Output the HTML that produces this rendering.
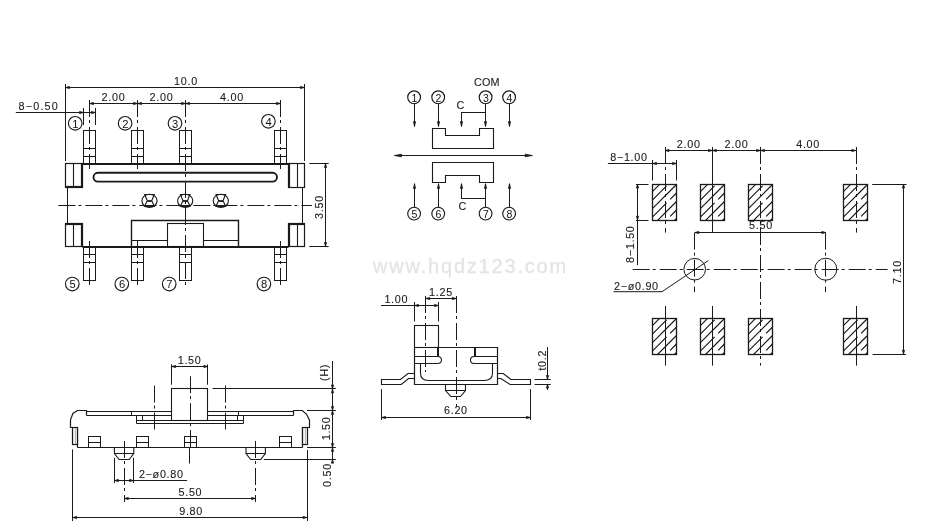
<!DOCTYPE html>
<html><head><meta charset="utf-8"><style>
html,body{margin:0;padding:0;background:#fff;}
svg{display:block;will-change:transform;}
text{font-family:"Liberation Sans",sans-serif;}
</style></head><body>
<svg width="939" height="532" viewBox="0 0 939 532">
<rect width="939" height="532" fill="#fff"/>
<line x1="65.5" y1="84" x2="65.5" y2="161" stroke="#1a1a1a" stroke-width="1.0"/>
<line x1="304.5" y1="84" x2="304.5" y2="161" stroke="#1a1a1a" stroke-width="1.0"/>
<line x1="65.5" y1="87.5" x2="304.5" y2="87.5" stroke="#1a1a1a" stroke-width="1.0"/>
<polygon points="65.50,87.50 69.50,86.30 69.50,88.70" fill="#1a1a1a" stroke="#1a1a1a" stroke-width="0.6" stroke-linejoin="round"/>
<polygon points="304.50,87.50 300.50,86.30 300.50,88.70" fill="#1a1a1a" stroke="#1a1a1a" stroke-width="0.6" stroke-linejoin="round"/>
<text x="186" y="85" font-size="10.8" text-anchor="middle" letter-spacing="0.7" fill="#1a1a1a" stroke="#1a1a1a" stroke-width="0.1">10.0</text>
<line x1="89.5" y1="103.5" x2="280.5" y2="103.5" stroke="#1a1a1a" stroke-width="1.0"/>
<polygon points="89.50,103.50 93.50,102.30 93.50,104.70" fill="#1a1a1a" stroke="#1a1a1a" stroke-width="0.6" stroke-linejoin="round"/>
<polygon points="137.50,103.50 141.50,102.30 141.50,104.70" fill="#1a1a1a" stroke="#1a1a1a" stroke-width="0.6" stroke-linejoin="round"/>
<polygon points="137.50,103.50 133.50,102.30 133.50,104.70" fill="#1a1a1a" stroke="#1a1a1a" stroke-width="0.6" stroke-linejoin="round"/>
<polygon points="185.50,103.50 189.50,102.30 189.50,104.70" fill="#1a1a1a" stroke="#1a1a1a" stroke-width="0.6" stroke-linejoin="round"/>
<polygon points="185.50,103.50 181.50,102.30 181.50,104.70" fill="#1a1a1a" stroke="#1a1a1a" stroke-width="0.6" stroke-linejoin="round"/>
<polygon points="280.50,103.50 276.50,102.30 276.50,104.70" fill="#1a1a1a" stroke="#1a1a1a" stroke-width="0.6" stroke-linejoin="round"/>
<text x="113.5" y="101.3" font-size="10.8" text-anchor="middle" letter-spacing="0.7" fill="#1a1a1a" stroke="#1a1a1a" stroke-width="0.1">2.00</text>
<text x="161.5" y="101.3" font-size="10.8" text-anchor="middle" letter-spacing="0.7" fill="#1a1a1a" stroke="#1a1a1a" stroke-width="0.1">2.00</text>
<text x="232" y="101.3" font-size="10.8" text-anchor="middle" letter-spacing="0.7" fill="#1a1a1a" stroke="#1a1a1a" stroke-width="0.1">4.00</text>
<line x1="89.5" y1="100" x2="89.5" y2="169" stroke="#1a1a1a" stroke-width="1.0" stroke-dasharray="17 3 3 4"/>
<line x1="89.5" y1="241" x2="89.5" y2="285.5" stroke="#1a1a1a" stroke-width="1.0" stroke-dasharray="17 3 3 4"/>
<line x1="137.5" y1="100" x2="137.5" y2="169" stroke="#1a1a1a" stroke-width="1.0" stroke-dasharray="17 3 3 4"/>
<line x1="137.5" y1="241" x2="137.5" y2="285.5" stroke="#1a1a1a" stroke-width="1.0" stroke-dasharray="17 3 3 4"/>
<line x1="280.5" y1="100" x2="280.5" y2="169" stroke="#1a1a1a" stroke-width="1.0" stroke-dasharray="17 3 3 4"/>
<line x1="280.5" y1="241" x2="280.5" y2="285.5" stroke="#1a1a1a" stroke-width="1.0" stroke-dasharray="17 3 3 4"/>
<line x1="185.5" y1="100" x2="185.5" y2="285.5" stroke="#1a1a1a" stroke-width="1.0" stroke-dasharray="17 3 3 4"/>
<text x="18.5" y="109.6" font-size="10.8" text-anchor="start" letter-spacing="1.2" fill="#1a1a1a" stroke="#1a1a1a" stroke-width="0.1">8&#8722;0.50</text>
<line x1="15.8" y1="112.5" x2="95.5" y2="112.5" stroke="#1a1a1a" stroke-width="1.0"/>
<line x1="83.5" y1="108" x2="83.5" y2="125" stroke="#1a1a1a" stroke-width="1.0"/>
<line x1="95.5" y1="108" x2="95.5" y2="125" stroke="#1a1a1a" stroke-width="1.0"/>
<polygon points="83.50,112.50 79.50,111.30 79.50,113.70" fill="#1a1a1a" stroke="#1a1a1a" stroke-width="0.6" stroke-linejoin="round"/>
<polygon points="95.50,112.50 91.50,111.30 91.50,113.70" fill="#1a1a1a" stroke="#1a1a1a" stroke-width="0.6" stroke-linejoin="round"/>
<circle cx="75.2" cy="123.3" r="6.8" stroke="#1a1a1a" stroke-width="1.15" fill="none"/>
<text x="75.4" y="127.5" font-size="11.2" text-anchor="middle" letter-spacing="0" fill="#111">1</text>
<circle cx="125.1" cy="123.3" r="6.8" stroke="#1a1a1a" stroke-width="1.15" fill="none"/>
<text x="125.3" y="127.5" font-size="11.2" text-anchor="middle" letter-spacing="0" fill="#111">2</text>
<circle cx="175" cy="123.3" r="6.8" stroke="#1a1a1a" stroke-width="1.15" fill="none"/>
<text x="175.2" y="127.5" font-size="11.2" text-anchor="middle" letter-spacing="0" fill="#111">3</text>
<circle cx="268.4" cy="121.3" r="6.8" stroke="#1a1a1a" stroke-width="1.15" fill="none"/>
<text x="268.59999999999997" y="125.5" font-size="11.2" text-anchor="middle" letter-spacing="0" fill="#111">4</text>
<rect x="83.5" y="130.5" width="12.0" height="34.0" stroke="#1a1a1a" stroke-width="1.0" fill="none"/>
<line x1="83.5" y1="148.5" x2="95.5" y2="148.5" stroke="#1a1a1a" stroke-width="1.0"/>
<line x1="83.5" y1="156.5" x2="95.5" y2="156.5" stroke="#1a1a1a" stroke-width="1.0"/>
<rect x="131.5" y="130.5" width="12.0" height="34.0" stroke="#1a1a1a" stroke-width="1.0" fill="none"/>
<line x1="131.5" y1="148.5" x2="143.5" y2="148.5" stroke="#1a1a1a" stroke-width="1.0"/>
<line x1="131.5" y1="156.5" x2="143.5" y2="156.5" stroke="#1a1a1a" stroke-width="1.0"/>
<rect x="179.5" y="130.5" width="12.0" height="34.0" stroke="#1a1a1a" stroke-width="1.0" fill="none"/>
<line x1="179.5" y1="148.5" x2="191.5" y2="148.5" stroke="#1a1a1a" stroke-width="1.0"/>
<line x1="179.5" y1="156.5" x2="191.5" y2="156.5" stroke="#1a1a1a" stroke-width="1.0"/>
<rect x="274.5" y="130.5" width="12.0" height="34.0" stroke="#1a1a1a" stroke-width="1.0" fill="none"/>
<line x1="274.5" y1="148.5" x2="286.5" y2="148.5" stroke="#1a1a1a" stroke-width="1.0"/>
<line x1="274.5" y1="156.5" x2="286.5" y2="156.5" stroke="#1a1a1a" stroke-width="1.0"/>
<line x1="82" y1="164" x2="289" y2="164" stroke="#1a1a1a" stroke-width="2"/>
<rect x="65.5" y="163.5" width="17.0" height="24.0" stroke="#1a1a1a" stroke-width="1.2" fill="none"/>
<line x1="73.5" y1="163.5" x2="73.5" y2="187.5" stroke="#1a1a1a" stroke-width="1.1"/>
<line x1="81.5" y1="163.5" x2="81.5" y2="187.5" stroke="#1a1a1a" stroke-width="1.2"/>
<line x1="66" y1="186.5" x2="82.5" y2="186.5" stroke="#1a1a1a" stroke-width="1.2"/>
<rect x="288.5" y="163.5" width="16.0" height="24.0" stroke="#1a1a1a" stroke-width="1.2" fill="none"/>
<line x1="297.5" y1="163.5" x2="297.5" y2="187.5" stroke="#1a1a1a" stroke-width="1.1"/>
<line x1="289.5" y1="163.5" x2="289.5" y2="187.5" stroke="#1a1a1a" stroke-width="1.2"/>
<rect x="65.5" y="223.5" width="17.0" height="23.0" stroke="#1a1a1a" stroke-width="1.2" fill="none"/>
<line x1="73.5" y1="223.5" x2="73.5" y2="246.5" stroke="#1a1a1a" stroke-width="1.1"/>
<line x1="81.5" y1="223.5" x2="81.5" y2="246.5" stroke="#1a1a1a" stroke-width="1.2"/>
<line x1="66" y1="224.5" x2="82.5" y2="224.5" stroke="#1a1a1a" stroke-width="1.2"/>
<rect x="288.5" y="223.5" width="16.0" height="23.0" stroke="#1a1a1a" stroke-width="1.2" fill="none"/>
<line x1="297.5" y1="223.5" x2="297.5" y2="246.5" stroke="#1a1a1a" stroke-width="1.1"/>
<line x1="289.5" y1="223.5" x2="289.5" y2="246.5" stroke="#1a1a1a" stroke-width="1.2"/>
<line x1="289" y1="224.5" x2="304.5" y2="224.5" stroke="#1a1a1a" stroke-width="1.2"/>
<line x1="67.5" y1="187.5" x2="67.5" y2="223.5" stroke="#1a1a1a" stroke-width="1.0"/>
<line x1="302.5" y1="187.5" x2="302.5" y2="223.5" stroke="#1a1a1a" stroke-width="1.0"/>
<line x1="82.5" y1="247" x2="288.5" y2="247" stroke="#1a1a1a" stroke-width="2"/>
<rect x="93.5" y="172.8" width="183.5" height="8.8" rx="4.4" stroke="#1a1a1a" stroke-width="1.9" fill="none"/>
<ellipse cx="149.5" cy="200.8" rx="7.6" ry="6.6" stroke="#1a1a1a" stroke-width="1.1" fill="none"/>
<path d="M144.75,194.5 H154.25 L151.7,200.8 L154.4,206.3 H144.6 L147.3,200.8 Z" stroke="#1a1a1a" stroke-width="1.1" fill="none"/>
<line x1="147.3" y1="201" x2="151.7" y2="201" stroke="#1a1a1a" stroke-width="1.8"/>
<line x1="144.6" y1="206" x2="154.4" y2="206" stroke="#1a1a1a" stroke-width="1.8"/>
<ellipse cx="185.2" cy="200.8" rx="7.6" ry="6.6" stroke="#1a1a1a" stroke-width="1.1" fill="none"/>
<path d="M180.45,194.5 H189.95 L187.39999999999998,200.8 L190.1,206.3 H180.29999999999998 L183.0,200.8 Z" stroke="#1a1a1a" stroke-width="1.1" fill="none"/>
<line x1="183.0" y1="201" x2="187.39999999999998" y2="201" stroke="#1a1a1a" stroke-width="1.8"/>
<line x1="180.29999999999998" y1="206" x2="190.1" y2="206" stroke="#1a1a1a" stroke-width="1.8"/>
<ellipse cx="220.8" cy="200.8" rx="7.6" ry="6.6" stroke="#1a1a1a" stroke-width="1.1" fill="none"/>
<path d="M216.05,194.5 H225.55 L223.0,200.8 L225.70000000000002,206.3 H215.9 L218.60000000000002,200.8 Z" stroke="#1a1a1a" stroke-width="1.1" fill="none"/>
<line x1="218.60000000000002" y1="201" x2="223.0" y2="201" stroke="#1a1a1a" stroke-width="1.8"/>
<line x1="215.9" y1="206" x2="225.70000000000002" y2="206" stroke="#1a1a1a" stroke-width="1.8"/>
<line x1="58.4" y1="205.5" x2="312" y2="205.5" stroke="#1a1a1a" stroke-width="1.0" stroke-dasharray="17 3 3 4"/>
<path d="M131.5,247 V220.5 H238.5 V247" stroke="#1a1a1a" stroke-width="1.4" fill="none"/>
<rect x="167.5" y="223.5" width="36.0" height="23.0" stroke="#1a1a1a" stroke-width="1.1" fill="none"/>
<line x1="131.5" y1="240.5" x2="167.5" y2="240.5" stroke="#1a1a1a" stroke-width="1.0"/>
<line x1="203.4" y1="240.5" x2="238.5" y2="240.5" stroke="#1a1a1a" stroke-width="1.0"/>
<rect x="83.5" y="246.5" width="12.0" height="34.0" stroke="#1a1a1a" stroke-width="1.0" fill="none"/>
<line x1="83.5" y1="254.5" x2="95.5" y2="254.5" stroke="#1a1a1a" stroke-width="1.0"/>
<line x1="83.5" y1="262.5" x2="95.5" y2="262.5" stroke="#1a1a1a" stroke-width="1.0"/>
<rect x="131.5" y="246.5" width="12.0" height="34.0" stroke="#1a1a1a" stroke-width="1.0" fill="none"/>
<line x1="131.5" y1="254.5" x2="143.5" y2="254.5" stroke="#1a1a1a" stroke-width="1.0"/>
<line x1="131.5" y1="262.5" x2="143.5" y2="262.5" stroke="#1a1a1a" stroke-width="1.0"/>
<rect x="179.5" y="246.5" width="12.0" height="34.0" stroke="#1a1a1a" stroke-width="1.0" fill="none"/>
<line x1="179.5" y1="254.5" x2="191.5" y2="254.5" stroke="#1a1a1a" stroke-width="1.0"/>
<line x1="179.5" y1="262.5" x2="191.5" y2="262.5" stroke="#1a1a1a" stroke-width="1.0"/>
<rect x="274.5" y="246.5" width="12.0" height="34.0" stroke="#1a1a1a" stroke-width="1.0" fill="none"/>
<line x1="274.5" y1="254.5" x2="286.5" y2="254.5" stroke="#1a1a1a" stroke-width="1.0"/>
<line x1="274.5" y1="262.5" x2="286.5" y2="262.5" stroke="#1a1a1a" stroke-width="1.0"/>
<circle cx="72.3" cy="284" r="6.8" stroke="#1a1a1a" stroke-width="1.15" fill="none"/>
<text x="72.5" y="288.2" font-size="11.2" text-anchor="middle" letter-spacing="0" fill="#111">5</text>
<circle cx="121.8" cy="284" r="6.8" stroke="#1a1a1a" stroke-width="1.15" fill="none"/>
<text x="122.0" y="288.2" font-size="11.2" text-anchor="middle" letter-spacing="0" fill="#111">6</text>
<circle cx="169.2" cy="284" r="6.8" stroke="#1a1a1a" stroke-width="1.15" fill="none"/>
<text x="169.39999999999998" y="288.2" font-size="11.2" text-anchor="middle" letter-spacing="0" fill="#111">7</text>
<circle cx="263.9" cy="284" r="6.8" stroke="#1a1a1a" stroke-width="1.15" fill="none"/>
<text x="264.09999999999997" y="288.2" font-size="11.2" text-anchor="middle" letter-spacing="0" fill="#111">8</text>
<line x1="309.3" y1="163.5" x2="328.7" y2="163.5" stroke="#1a1a1a" stroke-width="1.0"/>
<line x1="309.3" y1="246.5" x2="328.7" y2="246.5" stroke="#1a1a1a" stroke-width="1.0"/>
<line x1="325.5" y1="163.5" x2="325.5" y2="246.5" stroke="#1a1a1a" stroke-width="1.0"/>
<polygon points="325.50,163.50 324.30,167.50 326.70,167.50" fill="#1a1a1a" stroke="#1a1a1a" stroke-width="0.6" stroke-linejoin="round"/>
<polygon points="325.50,246.50 324.30,242.50 326.70,242.50" fill="#1a1a1a" stroke="#1a1a1a" stroke-width="0.6" stroke-linejoin="round"/>
<text x="322.5" y="207" font-size="10.8" text-anchor="middle" letter-spacing="0.7" fill="#1a1a1a" stroke="#1a1a1a" stroke-width="0.1" transform="rotate(-90 322.5 207)">3.50</text>
<text x="486.8" y="86" font-size="10.8" text-anchor="middle" letter-spacing="0.1" fill="#1a1a1a" stroke="#1a1a1a" stroke-width="0.1">COM</text>
<circle cx="414.1" cy="97.3" r="6.4" stroke="#1a1a1a" stroke-width="1.15" fill="none"/>
<text x="414.3" y="101.5" font-size="10.5" text-anchor="middle" letter-spacing="0" fill="#111">1</text>
<line x1="414.5" y1="103.5" x2="414.5" y2="126.4" stroke="#1a1a1a" stroke-width="1.0"/>
<polygon points="414.50,126.60 413.30,121.60 415.70,121.60" fill="#1a1a1a" stroke="#1a1a1a" stroke-width="0.6" stroke-linejoin="round"/>
<circle cx="438.2" cy="97.3" r="6.4" stroke="#1a1a1a" stroke-width="1.15" fill="none"/>
<text x="438.4" y="101.5" font-size="10.5" text-anchor="middle" letter-spacing="0" fill="#111">2</text>
<line x1="438.5" y1="103.5" x2="438.5" y2="126.4" stroke="#1a1a1a" stroke-width="1.0"/>
<polygon points="438.50,126.60 437.30,121.60 439.70,121.60" fill="#1a1a1a" stroke="#1a1a1a" stroke-width="0.6" stroke-linejoin="round"/>
<circle cx="485.6" cy="97.3" r="6.4" stroke="#1a1a1a" stroke-width="1.15" fill="none"/>
<text x="485.8" y="101.5" font-size="10.5" text-anchor="middle" letter-spacing="0" fill="#111">3</text>
<line x1="485.5" y1="103.5" x2="485.5" y2="126.4" stroke="#1a1a1a" stroke-width="1.0"/>
<polygon points="485.50,126.60 484.30,121.60 486.70,121.60" fill="#1a1a1a" stroke="#1a1a1a" stroke-width="0.6" stroke-linejoin="round"/>
<circle cx="509.1" cy="97.3" r="6.4" stroke="#1a1a1a" stroke-width="1.15" fill="none"/>
<text x="509.3" y="101.5" font-size="10.5" text-anchor="middle" letter-spacing="0" fill="#111">4</text>
<line x1="509.5" y1="103.5" x2="509.5" y2="126.4" stroke="#1a1a1a" stroke-width="1.0"/>
<polygon points="509.50,126.60 508.30,121.60 510.70,121.60" fill="#1a1a1a" stroke="#1a1a1a" stroke-width="0.6" stroke-linejoin="round"/>
<text x="460.3" y="108.7" font-size="10.8" text-anchor="middle" letter-spacing="0" fill="#1a1a1a" stroke="#1a1a1a" stroke-width="0.1">C</text>
<line x1="461.1" y1="112.5" x2="485.6" y2="112.5" stroke="#1a1a1a" stroke-width="1.0"/>
<line x1="461.5" y1="112.3" x2="461.5" y2="126.4" stroke="#1a1a1a" stroke-width="1.0"/>
<polygon points="461.50,126.60 460.30,121.60 462.70,121.60" fill="#1a1a1a" stroke="#1a1a1a" stroke-width="0.6" stroke-linejoin="round"/>
<path d="M432.5,148.5 V128.5 H445.5 V135.5 H479.5 V128.5 H493.5 V148.5 Z" stroke="#1a1a1a" stroke-width="1.1" fill="none"/>
<line x1="396" y1="155.5" x2="531" y2="155.5" stroke="#1a1a1a" stroke-width="1.2"/>
<polygon points="394.00,155.50 401.50,154.10 401.50,156.90" fill="#1a1a1a" stroke="#1a1a1a" stroke-width="0.6" stroke-linejoin="round"/>
<polygon points="532.60,155.50 525.10,154.10 525.10,156.90" fill="#1a1a1a" stroke="#1a1a1a" stroke-width="0.6" stroke-linejoin="round"/>
<path d="M432.5,162.5 H493.5 V182.5 H479.5 V175.5 H445.5 V182.5 H432.5 Z" stroke="#1a1a1a" stroke-width="1.1" fill="none"/>
<circle cx="414.1" cy="213.6" r="6.4" stroke="#1a1a1a" stroke-width="1.15" fill="none"/>
<text x="414.3" y="217.79999999999998" font-size="10.5" text-anchor="middle" letter-spacing="0" fill="#111">5</text>
<line x1="414.5" y1="207.4" x2="414.5" y2="184" stroke="#1a1a1a" stroke-width="1.0"/>
<polygon points="414.50,183.50 413.30,188.50 415.70,188.50" fill="#1a1a1a" stroke="#1a1a1a" stroke-width="0.6" stroke-linejoin="round"/>
<circle cx="438.2" cy="213.6" r="6.4" stroke="#1a1a1a" stroke-width="1.15" fill="none"/>
<text x="438.4" y="217.79999999999998" font-size="10.5" text-anchor="middle" letter-spacing="0" fill="#111">6</text>
<line x1="438.5" y1="207.4" x2="438.5" y2="184" stroke="#1a1a1a" stroke-width="1.0"/>
<polygon points="438.50,183.50 437.30,188.50 439.70,188.50" fill="#1a1a1a" stroke="#1a1a1a" stroke-width="0.6" stroke-linejoin="round"/>
<circle cx="485.6" cy="213.6" r="6.4" stroke="#1a1a1a" stroke-width="1.15" fill="none"/>
<text x="485.8" y="217.79999999999998" font-size="10.5" text-anchor="middle" letter-spacing="0" fill="#111">7</text>
<line x1="485.5" y1="207.4" x2="485.5" y2="184" stroke="#1a1a1a" stroke-width="1.0"/>
<polygon points="485.50,183.50 484.30,188.50 486.70,188.50" fill="#1a1a1a" stroke="#1a1a1a" stroke-width="0.6" stroke-linejoin="round"/>
<circle cx="509.1" cy="213.6" r="6.4" stroke="#1a1a1a" stroke-width="1.15" fill="none"/>
<text x="509.3" y="217.79999999999998" font-size="10.5" text-anchor="middle" letter-spacing="0" fill="#111">8</text>
<line x1="509.5" y1="207.4" x2="509.5" y2="184" stroke="#1a1a1a" stroke-width="1.0"/>
<polygon points="509.50,183.50 508.30,188.50 510.70,188.50" fill="#1a1a1a" stroke="#1a1a1a" stroke-width="0.6" stroke-linejoin="round"/>
<text x="462.3" y="209.8" font-size="10.8" text-anchor="middle" letter-spacing="0" fill="#1a1a1a" stroke="#1a1a1a" stroke-width="0.1">C</text>
<line x1="461.1" y1="198.5" x2="485.6" y2="198.5" stroke="#1a1a1a" stroke-width="1.0"/>
<line x1="461.5" y1="198.2" x2="461.5" y2="184" stroke="#1a1a1a" stroke-width="1.0"/>
<polygon points="461.50,183.50 460.30,188.50 462.70,188.50" fill="#1a1a1a" stroke="#1a1a1a" stroke-width="0.6" stroke-linejoin="round"/>
<text x="470.5" y="272.8" font-size="20" text-anchor="middle" letter-spacing="1.8" fill="#e4e4e4" stroke="#e4e4e4" stroke-width="0.3">www.hqdz123.com</text>
<line x1="171.5" y1="364.4" x2="171.5" y2="384.7" stroke="#1a1a1a" stroke-width="1.0"/>
<line x1="207.5" y1="364.4" x2="207.5" y2="384.7" stroke="#1a1a1a" stroke-width="1.0"/>
<line x1="171.7" y1="366.5" x2="207.9" y2="366.5" stroke="#1a1a1a" stroke-width="1.0"/>
<polygon points="171.70,366.50 175.70,365.30 175.70,367.70" fill="#1a1a1a" stroke="#1a1a1a" stroke-width="0.6" stroke-linejoin="round"/>
<polygon points="207.90,366.50 203.90,365.30 203.90,367.70" fill="#1a1a1a" stroke="#1a1a1a" stroke-width="0.6" stroke-linejoin="round"/>
<text x="189.6" y="364.4" font-size="10.8" text-anchor="middle" letter-spacing="0.7" fill="#1a1a1a" stroke="#1a1a1a" stroke-width="0.1">1.50</text>
<rect x="171.5" y="388.5" width="36.0" height="32.0" stroke="#1a1a1a" stroke-width="1.1" fill="none"/>
<line x1="190.5" y1="376.2" x2="190.5" y2="447" stroke="#1a1a1a" stroke-width="1.0" stroke-dasharray="17 3 3 4"/>
<line x1="189.5" y1="447" x2="189.5" y2="463.5" stroke="#1a1a1a" stroke-width="1.0"/>
<line x1="212.6" y1="388.5" x2="335.8" y2="388.5" stroke="#1a1a1a" stroke-width="1.0"/>
<line x1="86.5" y1="411.5" x2="172" y2="411.5" stroke="#1a1a1a" stroke-width="1.2"/>
<line x1="207.5" y1="411.5" x2="293.5" y2="411.5" stroke="#1a1a1a" stroke-width="1.2"/>
<line x1="86.5" y1="415.5" x2="172" y2="415.5" stroke="#1a1a1a" stroke-width="1.1"/>
<line x1="207.5" y1="415.5" x2="293.5" y2="415.5" stroke="#1a1a1a" stroke-width="1.1"/>
<line x1="131.5" y1="411.5" x2="131.5" y2="415.5" stroke="#1a1a1a" stroke-width="1.0"/>
<line x1="238.5" y1="411.5" x2="238.5" y2="415.5" stroke="#1a1a1a" stroke-width="1.0"/>
<rect x="136.5" y="415.5" width="6.0" height="5.0" stroke="#1a1a1a" stroke-width="1.0" fill="none"/>
<rect x="237.5" y="415.5" width="6.0" height="5.0" stroke="#1a1a1a" stroke-width="1.0" fill="none"/>
<line x1="136.5" y1="420.5" x2="172" y2="420.5" stroke="#1a1a1a" stroke-width="1.0"/>
<line x1="207.5" y1="420.5" x2="243.5" y2="420.5" stroke="#1a1a1a" stroke-width="1.0"/>
<line x1="136.5" y1="423.5" x2="243.5" y2="423.5" stroke="#1a1a1a" stroke-width="1.0"/>
<line x1="136.5" y1="415.5" x2="136.5" y2="423.5" stroke="#1a1a1a" stroke-width="1.0"/>
<line x1="243.5" y1="415.5" x2="243.5" y2="423.5" stroke="#1a1a1a" stroke-width="1.0"/>
<path d="M86.5,415.5 V410.5 H77.5 L72.9,413.5 L70.5,419.8 V427.5 H77.5 V447.5" stroke="#1a1a1a" stroke-width="1.2" fill="none"/>
<path d="M293.5,415.5 V410.5 H302.3 L306.6,414.3 L309.5,420.2 V427.5 H302.5 V447.5" stroke="#1a1a1a" stroke-width="1.2" fill="none"/>
<rect x="72.5" y="427.5" width="5" height="17" fill="#f4f4f4" stroke="#1a1a1a" stroke-width="1.2"/>
<rect x="302.5" y="427.5" width="5" height="17" fill="#f4f4f4" stroke="#1a1a1a" stroke-width="1.2"/>
<line x1="75.5" y1="428" x2="75.5" y2="444" stroke="#aaa" stroke-width="0.8"/>
<line x1="305.5" y1="428" x2="305.5" y2="444" stroke="#aaa" stroke-width="0.8"/>
<line x1="77.5" y1="447.5" x2="302.5" y2="447.5" stroke="#1a1a1a" stroke-width="1.2"/>
<rect x="88.5" y="436.5" width="12.0" height="11.0" stroke="#1a1a1a" stroke-width="1.0" fill="none"/>
<line x1="88.5" y1="442.5" x2="100.5" y2="442.5" stroke="#1a1a1a" stroke-width="1.0"/>
<rect x="136.5" y="436.5" width="12.0" height="11.0" stroke="#1a1a1a" stroke-width="1.0" fill="none"/>
<line x1="136.5" y1="442.5" x2="148.5" y2="442.5" stroke="#1a1a1a" stroke-width="1.0"/>
<rect x="184.5" y="436.5" width="12.0" height="11.0" stroke="#1a1a1a" stroke-width="1.0" fill="none"/>
<line x1="184" y1="442.5" x2="196" y2="442.5" stroke="#1a1a1a" stroke-width="1.0"/>
<rect x="279.5" y="436.5" width="12.0" height="11.0" stroke="#1a1a1a" stroke-width="1.0" fill="none"/>
<line x1="279.5" y1="442.5" x2="291.5" y2="442.5" stroke="#1a1a1a" stroke-width="1.0"/>
<path d="M114.39999999999999,447.5 V453.5 L119.1,459.5 H129.1 L133.79999999999998,453.5 V447.5" stroke="#1a1a1a" stroke-width="1.1" fill="none"/>
<line x1="114.39999999999999" y1="453.5" x2="133.79999999999998" y2="453.5" stroke="#1a1a1a" stroke-width="1.0"/>
<line x1="124.5" y1="441" x2="124.5" y2="502" stroke="#1a1a1a" stroke-width="1.0" stroke-dasharray="17 3 3 4"/>
<path d="M246.0,447.5 V453.5 L250.7,459.5 H260.7 L265.4,453.5 V447.5" stroke="#1a1a1a" stroke-width="1.1" fill="none"/>
<line x1="246.0" y1="453.5" x2="265.4" y2="453.5" stroke="#1a1a1a" stroke-width="1.0"/>
<line x1="255.5" y1="441" x2="255.5" y2="502" stroke="#1a1a1a" stroke-width="1.0" stroke-dasharray="17 3 3 4"/>
<line x1="154.5" y1="385.6" x2="154.5" y2="429.5" stroke="#1a1a1a" stroke-width="1.0" stroke-dasharray="17 3 3 4"/>
<line x1="225.5" y1="385.6" x2="225.5" y2="429.5" stroke="#1a1a1a" stroke-width="1.0" stroke-dasharray="17 3 3 4"/>
<line x1="114.5" y1="457.8" x2="114.5" y2="483" stroke="#1a1a1a" stroke-width="1.0"/>
<line x1="133.5" y1="457.8" x2="133.5" y2="483" stroke="#1a1a1a" stroke-width="1.0"/>
<line x1="114.4" y1="480.5" x2="187.1" y2="480.5" stroke="#1a1a1a" stroke-width="1.0"/>
<polygon points="114.50,480.50 118.50,479.30 118.50,481.70" fill="#1a1a1a" stroke="#1a1a1a" stroke-width="0.6" stroke-linejoin="round"/>
<polygon points="133.50,480.50 129.50,479.30 129.50,481.70" fill="#1a1a1a" stroke="#1a1a1a" stroke-width="0.6" stroke-linejoin="round"/>
<text x="138.9" y="477.6" font-size="10.8" text-anchor="start" letter-spacing="0.7" fill="#1a1a1a" stroke="#1a1a1a" stroke-width="0.1">2&#8722;&#248;0.80</text>
<line x1="124.3" y1="498.5" x2="255.6" y2="498.5" stroke="#1a1a1a" stroke-width="1.0"/>
<polygon points="124.30,498.50 128.30,497.30 128.30,499.70" fill="#1a1a1a" stroke="#1a1a1a" stroke-width="0.6" stroke-linejoin="round"/>
<polygon points="255.60,498.50 251.60,497.30 251.60,499.70" fill="#1a1a1a" stroke="#1a1a1a" stroke-width="0.6" stroke-linejoin="round"/>
<text x="190.4" y="496" font-size="10.8" text-anchor="middle" letter-spacing="0.7" fill="#1a1a1a" stroke="#1a1a1a" stroke-width="0.1">5.50</text>
<line x1="72.5" y1="449.4" x2="72.5" y2="521" stroke="#1a1a1a" stroke-width="1.0"/>
<line x1="307.5" y1="450" x2="307.5" y2="521" stroke="#1a1a1a" stroke-width="1.0"/>
<line x1="72.7" y1="517.5" x2="307" y2="517.5" stroke="#1a1a1a" stroke-width="1.0"/>
<polygon points="72.70,517.50 76.70,516.30 76.70,518.70" fill="#1a1a1a" stroke="#1a1a1a" stroke-width="0.6" stroke-linejoin="round"/>
<polygon points="307.00,517.50 303.00,516.30 303.00,518.70" fill="#1a1a1a" stroke="#1a1a1a" stroke-width="0.6" stroke-linejoin="round"/>
<text x="191.1" y="514.8" font-size="10.8" text-anchor="middle" letter-spacing="0.7" fill="#1a1a1a" stroke="#1a1a1a" stroke-width="0.1">9.80</text>
<line x1="332.5" y1="361" x2="332.5" y2="459.2" stroke="#1a1a1a" stroke-width="1.0"/>
<line x1="307" y1="410.5" x2="335.8" y2="410.5" stroke="#1a1a1a" stroke-width="1.0"/>
<line x1="307" y1="447.5" x2="335.8" y2="447.5" stroke="#1a1a1a" stroke-width="1.0"/>
<line x1="263.9" y1="459.5" x2="335.8" y2="459.5" stroke="#1a1a1a" stroke-width="1.0"/>
<polygon points="332.50,388.90 331.30,392.90 333.70,392.90" fill="#1a1a1a" stroke="#1a1a1a" stroke-width="0.6" stroke-linejoin="round"/>
<polygon points="332.50,388.90 331.30,384.90 333.70,384.90" fill="#1a1a1a" stroke="#1a1a1a" stroke-width="0.6" stroke-linejoin="round"/>
<polygon points="332.50,410.40 331.30,414.40 333.70,414.40" fill="#1a1a1a" stroke="#1a1a1a" stroke-width="0.6" stroke-linejoin="round"/>
<polygon points="332.50,410.40 331.30,406.40 333.70,406.40" fill="#1a1a1a" stroke="#1a1a1a" stroke-width="0.6" stroke-linejoin="round"/>
<polygon points="332.50,447.40 331.30,451.40 333.70,451.40" fill="#1a1a1a" stroke="#1a1a1a" stroke-width="0.6" stroke-linejoin="round"/>
<polygon points="332.50,447.40 331.30,443.40 333.70,443.40" fill="#1a1a1a" stroke="#1a1a1a" stroke-width="0.6" stroke-linejoin="round"/>
<polygon points="332.50,459.20 331.30,463.20 333.70,463.20" fill="#1a1a1a" stroke="#1a1a1a" stroke-width="0.6" stroke-linejoin="round"/>
<text x="327.8" y="372.5" font-size="10.8" text-anchor="middle" letter-spacing="0.7" fill="#1a1a1a" stroke="#1a1a1a" stroke-width="0.1" transform="rotate(-90 327.8 372.5)">(H)</text>
<text x="330.5" y="428.4" font-size="10.8" text-anchor="middle" letter-spacing="0.7" fill="#1a1a1a" stroke="#1a1a1a" stroke-width="0.1" transform="rotate(-90 330.5 428.4)">1.50</text>
<text x="330.5" y="475" font-size="10.8" text-anchor="middle" letter-spacing="0.7" fill="#1a1a1a" stroke="#1a1a1a" stroke-width="0.1" transform="rotate(-90 330.5 475)">0.50</text>
<text x="384.4" y="302.8" font-size="10.8" text-anchor="start" letter-spacing="0.7" fill="#1a1a1a" stroke="#1a1a1a" stroke-width="0.1">1.00</text>
<line x1="381" y1="305.5" x2="438.5" y2="305.5" stroke="#1a1a1a" stroke-width="1.0"/>
<line x1="414.5" y1="302" x2="414.5" y2="321.5" stroke="#1a1a1a" stroke-width="1.0"/>
<line x1="438.5" y1="302" x2="438.5" y2="321.5" stroke="#1a1a1a" stroke-width="1.0"/>
<polygon points="414.50,305.50 418.50,304.30 418.50,306.70" fill="#1a1a1a" stroke="#1a1a1a" stroke-width="0.6" stroke-linejoin="round"/>
<polygon points="438.50,305.50 434.50,304.30 434.50,306.70" fill="#1a1a1a" stroke="#1a1a1a" stroke-width="0.6" stroke-linejoin="round"/>
<text x="441" y="296.4" font-size="10.8" text-anchor="middle" letter-spacing="0.7" fill="#1a1a1a" stroke="#1a1a1a" stroke-width="0.1">1.25</text>
<line x1="425.8" y1="298.5" x2="456.3" y2="298.5" stroke="#1a1a1a" stroke-width="1.0"/>
<polygon points="425.80,298.50 429.80,297.30 429.80,299.70" fill="#1a1a1a" stroke="#1a1a1a" stroke-width="0.6" stroke-linejoin="round"/>
<polygon points="456.30,298.50 452.30,297.30 452.30,299.70" fill="#1a1a1a" stroke="#1a1a1a" stroke-width="0.6" stroke-linejoin="round"/>
<line x1="425.5" y1="296" x2="425.5" y2="372" stroke="#1a1a1a" stroke-width="1.0" stroke-dasharray="17 3 3 4"/>
<line x1="456.5" y1="296" x2="456.5" y2="407" stroke="#1a1a1a" stroke-width="1.0" stroke-dasharray="17 3 3 4"/>
<rect x="414.5" y="325.5" width="24.0" height="22.0" stroke="#1a1a1a" stroke-width="1.1" fill="none"/>
<path d="M414.5,347.5 V384.5 H497.5 V347.5 Z" stroke="#1a1a1a" stroke-width="1.2" fill="none"/>
<line x1="438" y1="347.5" x2="438" y2="356.5" stroke="#1a1a1a" stroke-width="2"/>
<path d="M414.5,356.5 H437.5 Q441.5,356.5 441.5,360 Q441.5,363.5 437.5,363.5 H414.5" stroke="#1a1a1a" stroke-width="1.1" fill="none"/>
<path d="M420.5,363.5 V373 Q420.5,380.5 428.5,380.5 H484 Q492.5,380.5 492.5,373 V363.5" stroke="#1a1a1a" stroke-width="1.1" fill="none"/>
<line x1="475" y1="347.5" x2="475" y2="356.5" stroke="#1a1a1a" stroke-width="2"/>
<path d="M497.5,356.5 H474 Q470.5,356.5 470.5,360 Q470.5,363.5 474,363.5 H497.5" stroke="#1a1a1a" stroke-width="1.1" fill="none"/>
<path d="M414.5,373.5 H408 L400.5,379.5 H381.5 V384.5 H401.3 L408.5,378.5 H414.5" stroke="#1a1a1a" stroke-width="1.1" fill="none"/>
<path d="M497.5,373.5 H503.3 L510.9,379.5 H530.5 V384.5 H510.1 L500.8,378.5 H497.5" stroke="#1a1a1a" stroke-width="1.1" fill="none"/>
<path d="M445.5,384.5 V390.5 L450.9,396.5 H460.5 L465.5,390.5 V384.5" stroke="#1a1a1a" stroke-width="1.1" fill="none"/>
<line x1="445.8" y1="390.5" x2="465.6" y2="390.5" stroke="#1a1a1a" stroke-width="1.0"/>
<line x1="381.5" y1="389.2" x2="381.5" y2="420" stroke="#1a1a1a" stroke-width="1.0"/>
<line x1="530.5" y1="389.2" x2="530.5" y2="420" stroke="#1a1a1a" stroke-width="1.0"/>
<line x1="381.5" y1="417.5" x2="530.4" y2="417.5" stroke="#1a1a1a" stroke-width="1.0"/>
<polygon points="381.50,417.50 385.50,416.30 385.50,418.70" fill="#1a1a1a" stroke="#1a1a1a" stroke-width="0.6" stroke-linejoin="round"/>
<polygon points="530.40,417.50 526.40,416.30 526.40,418.70" fill="#1a1a1a" stroke="#1a1a1a" stroke-width="0.6" stroke-linejoin="round"/>
<text x="455.9" y="413.8" font-size="10.8" text-anchor="middle" letter-spacing="0.7" fill="#1a1a1a" stroke="#1a1a1a" stroke-width="0.1">6.20</text>
<line x1="534.6" y1="379.5" x2="550.7" y2="379.5" stroke="#1a1a1a" stroke-width="1.0"/>
<line x1="534.6" y1="384.5" x2="550.7" y2="384.5" stroke="#1a1a1a" stroke-width="1.0"/>
<line x1="547.5" y1="347" x2="547.5" y2="379.4" stroke="#1a1a1a" stroke-width="1.0"/>
<polygon points="547.50,379.40 546.30,375.40 548.70,375.40" fill="#1a1a1a" stroke="#1a1a1a" stroke-width="0.6" stroke-linejoin="round"/>
<line x1="547.5" y1="384.1" x2="547.5" y2="390" stroke="#1a1a1a" stroke-width="1.0"/>
<polygon points="547.50,384.10 546.30,388.10 548.70,388.10" fill="#1a1a1a" stroke="#1a1a1a" stroke-width="0.6" stroke-linejoin="round"/>
<text x="546" y="360.2" font-size="10.8" text-anchor="middle" letter-spacing="0.7" fill="#1a1a1a" stroke="#1a1a1a" stroke-width="0.1" transform="rotate(-90 546 360.2)">t0.2</text>
<line x1="665" y1="150.5" x2="855.8" y2="150.5" stroke="#1a1a1a" stroke-width="1.0"/>
<polygon points="665.00,150.50 669.00,149.30 669.00,151.70" fill="#1a1a1a" stroke="#1a1a1a" stroke-width="0.6" stroke-linejoin="round"/>
<polygon points="712.40,150.50 716.40,149.30 716.40,151.70" fill="#1a1a1a" stroke="#1a1a1a" stroke-width="0.6" stroke-linejoin="round"/>
<polygon points="712.40,150.50 708.40,149.30 708.40,151.70" fill="#1a1a1a" stroke="#1a1a1a" stroke-width="0.6" stroke-linejoin="round"/>
<polygon points="760.50,150.50 764.50,149.30 764.50,151.70" fill="#1a1a1a" stroke="#1a1a1a" stroke-width="0.6" stroke-linejoin="round"/>
<polygon points="760.50,150.50 756.50,149.30 756.50,151.70" fill="#1a1a1a" stroke="#1a1a1a" stroke-width="0.6" stroke-linejoin="round"/>
<polygon points="855.80,150.50 851.80,149.30 851.80,151.70" fill="#1a1a1a" stroke="#1a1a1a" stroke-width="0.6" stroke-linejoin="round"/>
<text x="688.7" y="148" font-size="10.8" text-anchor="middle" letter-spacing="0.7" fill="#1a1a1a" stroke="#1a1a1a" stroke-width="0.1">2.00</text>
<text x="736.5" y="148" font-size="10.8" text-anchor="middle" letter-spacing="0.7" fill="#1a1a1a" stroke="#1a1a1a" stroke-width="0.1">2.00</text>
<text x="808.1" y="148" font-size="10.8" text-anchor="middle" letter-spacing="0.7" fill="#1a1a1a" stroke="#1a1a1a" stroke-width="0.1">4.00</text>
<g><clipPath id="c0184"><rect x="652.5" y="184.5" width="24" height="36.0"/></clipPath>
<path clip-path="url(#c0184)" d="M676.5,116.5 L622.5,170.5 M676.5,133.5 L622.5,187.5 M676.5,150.5 L622.5,204.5 M676.5,167.5 L622.5,221.5 M676.5,184.5 L622.5,238.5 M676.5,201.5 L622.5,255.5 M676.5,218.5 L622.5,272.5 M676.5,235.5 L622.5,289.5" stroke="#151515" stroke-width="1.15"/>
<path clip-path="url(#c0184)" d="M676.5,125.0 L622.5,179.0 M676.5,142.0 L622.5,196.0 M676.5,159.0 L622.5,213.0 M676.5,176.0 L622.5,230.0 M676.5,193.0 L622.5,247.0 M676.5,210.0 L622.5,264.0 M676.5,227.0 L622.5,281.0 M676.5,244.0 L622.5,298.0" stroke="#151515" stroke-width="1.15" stroke-dasharray="9 5 30 4"/></g>
<rect x="652.5" y="184.5" width="24.0" height="36.0" stroke="#1a1a1a" stroke-width="1.3" fill="none"/>
<g><clipPath id="c0318"><rect x="652.5" y="318.5" width="24" height="36.0"/></clipPath>
<path clip-path="url(#c0318)" d="M676.5,250.5 L622.5,304.5 M676.5,267.5 L622.5,321.5 M676.5,284.5 L622.5,338.5 M676.5,301.5 L622.5,355.5 M676.5,318.5 L622.5,372.5 M676.5,335.5 L622.5,389.5 M676.5,352.5 L622.5,406.5 M676.5,369.5 L622.5,423.5" stroke="#151515" stroke-width="1.15"/>
<path clip-path="url(#c0318)" d="M676.5,259.0 L622.5,313.0 M676.5,276.0 L622.5,330.0 M676.5,293.0 L622.5,347.0 M676.5,310.0 L622.5,364.0 M676.5,327.0 L622.5,381.0 M676.5,344.0 L622.5,398.0 M676.5,361.0 L622.5,415.0 M676.5,378.0 L622.5,432.0" stroke="#151515" stroke-width="1.15" stroke-dasharray="9 5 30 4"/></g>
<rect x="652.5" y="318.5" width="24.0" height="36.0" stroke="#1a1a1a" stroke-width="1.3" fill="none"/>
<g><clipPath id="c1184"><rect x="700.5" y="184.5" width="24" height="36.0"/></clipPath>
<path clip-path="url(#c1184)" d="M724.5,116.5 L670.5,170.5 M724.5,133.5 L670.5,187.5 M724.5,150.5 L670.5,204.5 M724.5,167.5 L670.5,221.5 M724.5,184.5 L670.5,238.5 M724.5,201.5 L670.5,255.5 M724.5,218.5 L670.5,272.5 M724.5,235.5 L670.5,289.5" stroke="#151515" stroke-width="1.15"/>
<path clip-path="url(#c1184)" d="M724.5,125.0 L670.5,179.0 M724.5,142.0 L670.5,196.0 M724.5,159.0 L670.5,213.0 M724.5,176.0 L670.5,230.0 M724.5,193.0 L670.5,247.0 M724.5,210.0 L670.5,264.0 M724.5,227.0 L670.5,281.0 M724.5,244.0 L670.5,298.0" stroke="#151515" stroke-width="1.15" stroke-dasharray="9 5 30 4"/></g>
<rect x="700.5" y="184.5" width="24.0" height="36.0" stroke="#1a1a1a" stroke-width="1.3" fill="none"/>
<g><clipPath id="c1318"><rect x="700.5" y="318.5" width="24" height="36.0"/></clipPath>
<path clip-path="url(#c1318)" d="M724.5,250.5 L670.5,304.5 M724.5,267.5 L670.5,321.5 M724.5,284.5 L670.5,338.5 M724.5,301.5 L670.5,355.5 M724.5,318.5 L670.5,372.5 M724.5,335.5 L670.5,389.5 M724.5,352.5 L670.5,406.5 M724.5,369.5 L670.5,423.5" stroke="#151515" stroke-width="1.15"/>
<path clip-path="url(#c1318)" d="M724.5,259.0 L670.5,313.0 M724.5,276.0 L670.5,330.0 M724.5,293.0 L670.5,347.0 M724.5,310.0 L670.5,364.0 M724.5,327.0 L670.5,381.0 M724.5,344.0 L670.5,398.0 M724.5,361.0 L670.5,415.0 M724.5,378.0 L670.5,432.0" stroke="#151515" stroke-width="1.15" stroke-dasharray="9 5 30 4"/></g>
<rect x="700.5" y="318.5" width="24.0" height="36.0" stroke="#1a1a1a" stroke-width="1.3" fill="none"/>
<g><clipPath id="c2184"><rect x="748.5" y="184.5" width="24" height="36.0"/></clipPath>
<path clip-path="url(#c2184)" d="M772.5,116.5 L718.5,170.5 M772.5,133.5 L718.5,187.5 M772.5,150.5 L718.5,204.5 M772.5,167.5 L718.5,221.5 M772.5,184.5 L718.5,238.5 M772.5,201.5 L718.5,255.5 M772.5,218.5 L718.5,272.5 M772.5,235.5 L718.5,289.5" stroke="#151515" stroke-width="1.15"/>
<path clip-path="url(#c2184)" d="M772.5,125.0 L718.5,179.0 M772.5,142.0 L718.5,196.0 M772.5,159.0 L718.5,213.0 M772.5,176.0 L718.5,230.0 M772.5,193.0 L718.5,247.0 M772.5,210.0 L718.5,264.0 M772.5,227.0 L718.5,281.0 M772.5,244.0 L718.5,298.0" stroke="#151515" stroke-width="1.15" stroke-dasharray="9 5 30 4"/></g>
<rect x="748.5" y="184.5" width="24.0" height="36.0" stroke="#1a1a1a" stroke-width="1.3" fill="none"/>
<g><clipPath id="c2318"><rect x="748.5" y="318.5" width="24" height="36.0"/></clipPath>
<path clip-path="url(#c2318)" d="M772.5,250.5 L718.5,304.5 M772.5,267.5 L718.5,321.5 M772.5,284.5 L718.5,338.5 M772.5,301.5 L718.5,355.5 M772.5,318.5 L718.5,372.5 M772.5,335.5 L718.5,389.5 M772.5,352.5 L718.5,406.5 M772.5,369.5 L718.5,423.5" stroke="#151515" stroke-width="1.15"/>
<path clip-path="url(#c2318)" d="M772.5,259.0 L718.5,313.0 M772.5,276.0 L718.5,330.0 M772.5,293.0 L718.5,347.0 M772.5,310.0 L718.5,364.0 M772.5,327.0 L718.5,381.0 M772.5,344.0 L718.5,398.0 M772.5,361.0 L718.5,415.0 M772.5,378.0 L718.5,432.0" stroke="#151515" stroke-width="1.15" stroke-dasharray="9 5 30 4"/></g>
<rect x="748.5" y="318.5" width="24.0" height="36.0" stroke="#1a1a1a" stroke-width="1.3" fill="none"/>
<g><clipPath id="c3184"><rect x="843.5" y="184.5" width="24" height="36.0"/></clipPath>
<path clip-path="url(#c3184)" d="M867.5,116.5 L813.5,170.5 M867.5,133.5 L813.5,187.5 M867.5,150.5 L813.5,204.5 M867.5,167.5 L813.5,221.5 M867.5,184.5 L813.5,238.5 M867.5,201.5 L813.5,255.5 M867.5,218.5 L813.5,272.5 M867.5,235.5 L813.5,289.5" stroke="#151515" stroke-width="1.15"/>
<path clip-path="url(#c3184)" d="M867.5,125.0 L813.5,179.0 M867.5,142.0 L813.5,196.0 M867.5,159.0 L813.5,213.0 M867.5,176.0 L813.5,230.0 M867.5,193.0 L813.5,247.0 M867.5,210.0 L813.5,264.0 M867.5,227.0 L813.5,281.0 M867.5,244.0 L813.5,298.0" stroke="#151515" stroke-width="1.15" stroke-dasharray="9 5 30 4"/></g>
<rect x="843.5" y="184.5" width="24.0" height="36.0" stroke="#1a1a1a" stroke-width="1.3" fill="none"/>
<g><clipPath id="c3318"><rect x="843.5" y="318.5" width="24" height="36.0"/></clipPath>
<path clip-path="url(#c3318)" d="M867.5,250.5 L813.5,304.5 M867.5,267.5 L813.5,321.5 M867.5,284.5 L813.5,338.5 M867.5,301.5 L813.5,355.5 M867.5,318.5 L813.5,372.5 M867.5,335.5 L813.5,389.5 M867.5,352.5 L813.5,406.5 M867.5,369.5 L813.5,423.5" stroke="#151515" stroke-width="1.15"/>
<path clip-path="url(#c3318)" d="M867.5,259.0 L813.5,313.0 M867.5,276.0 L813.5,330.0 M867.5,293.0 L813.5,347.0 M867.5,310.0 L813.5,364.0 M867.5,327.0 L813.5,381.0 M867.5,344.0 L813.5,398.0 M867.5,361.0 L813.5,415.0 M867.5,378.0 L813.5,432.0" stroke="#151515" stroke-width="1.15" stroke-dasharray="9 5 30 4"/></g>
<rect x="843.5" y="318.5" width="24.0" height="36.0" stroke="#1a1a1a" stroke-width="1.3" fill="none"/>
<line x1="665.5" y1="147" x2="665.5" y2="232.6" stroke="#1a1a1a" stroke-width="1.0" stroke-dasharray="17 3 3 4"/>
<line x1="665.5" y1="306" x2="665.5" y2="365.6" stroke="#1a1a1a" stroke-width="1.0"/>
<line x1="856.5" y1="147" x2="856.5" y2="232.6" stroke="#1a1a1a" stroke-width="1.0" stroke-dasharray="17 3 3 4"/>
<line x1="856.5" y1="306" x2="856.5" y2="365.6" stroke="#1a1a1a" stroke-width="1.0"/>
<line x1="712.5" y1="147" x2="712.5" y2="232.6" stroke="#1a1a1a" stroke-width="1.0"/>
<line x1="712.5" y1="306" x2="712.5" y2="365.6" stroke="#1a1a1a" stroke-width="1.0"/>
<line x1="760.5" y1="147" x2="760.5" y2="365.6" stroke="#1a1a1a" stroke-width="1.0" stroke-dasharray="17 3 3 4"/>
<text x="610.2" y="160.5" font-size="10.8" text-anchor="start" letter-spacing="0.7" fill="#1a1a1a" stroke="#1a1a1a" stroke-width="0.1">8&#8722;1.00</text>
<line x1="607.9" y1="163.5" x2="676.5" y2="163.5" stroke="#1a1a1a" stroke-width="1.0"/>
<line x1="652.5" y1="160" x2="652.5" y2="180.5" stroke="#1a1a1a" stroke-width="1.0"/>
<line x1="676.5" y1="160" x2="676.5" y2="180.5" stroke="#1a1a1a" stroke-width="1.0"/>
<polygon points="652.50,163.50 656.50,162.30 656.50,164.70" fill="#1a1a1a" stroke="#1a1a1a" stroke-width="0.6" stroke-linejoin="round"/>
<polygon points="676.50,163.50 672.50,162.30 672.50,164.70" fill="#1a1a1a" stroke="#1a1a1a" stroke-width="0.6" stroke-linejoin="round"/>
<line x1="636" y1="184.5" x2="648.5" y2="184.5" stroke="#1a1a1a" stroke-width="1.0"/>
<line x1="636" y1="220.5" x2="648.5" y2="220.5" stroke="#1a1a1a" stroke-width="1.0"/>
<line x1="637.5" y1="184.1" x2="637.5" y2="265.1" stroke="#1a1a1a" stroke-width="1.0"/>
<polygon points="637.50,184.10 636.30,188.10 638.70,188.10" fill="#1a1a1a" stroke="#1a1a1a" stroke-width="0.6" stroke-linejoin="round"/>
<polygon points="637.50,220.20 636.30,216.20 638.70,216.20" fill="#1a1a1a" stroke="#1a1a1a" stroke-width="0.6" stroke-linejoin="round"/>
<text x="634" y="244.2" font-size="10.8" text-anchor="middle" letter-spacing="0.7" fill="#1a1a1a" stroke="#1a1a1a" stroke-width="0.1" transform="rotate(-90 634 244.2)">8&#8722;1.50</text>
<line x1="694.8" y1="232.5" x2="825.8" y2="232.5" stroke="#1a1a1a" stroke-width="1.0"/>
<polygon points="694.80,232.50 698.80,231.30 698.80,233.70" fill="#1a1a1a" stroke="#1a1a1a" stroke-width="0.6" stroke-linejoin="round"/>
<polygon points="825.80,232.50 821.80,231.30 821.80,233.70" fill="#1a1a1a" stroke="#1a1a1a" stroke-width="0.6" stroke-linejoin="round"/>
<text x="761" y="229.3" font-size="10.8" text-anchor="middle" letter-spacing="0.7" fill="#1a1a1a" stroke="#1a1a1a" stroke-width="0.1">5.50</text>
<line x1="694.5" y1="232.6" x2="694.5" y2="292.2" stroke="#1a1a1a" stroke-width="1.0" stroke-dasharray="17 3 3 4"/>
<line x1="825.5" y1="232.6" x2="825.5" y2="292.2" stroke="#1a1a1a" stroke-width="1.0" stroke-dasharray="17 3 3 4"/>
<line x1="632.7" y1="269.5" x2="887.6" y2="269.5" stroke="#1a1a1a" stroke-width="1.0" stroke-dasharray="17 3 3 4"/>
<circle cx="694.7" cy="269.2" r="10.8" stroke="#1a1a1a" stroke-width="1.0" fill="none"/>
<circle cx="825.8" cy="269.2" r="11" stroke="#1a1a1a" stroke-width="1.0" fill="none"/>
<path d="M708.3,260.6 L662,291.7 H613.5" stroke="#1a1a1a" stroke-width="1" fill="none"/>
<text x="614" y="290" font-size="10.8" text-anchor="start" letter-spacing="0.7" fill="#1a1a1a" stroke="#1a1a1a" stroke-width="0.1">2&#8722;&#248;0.90</text>
<line x1="872.2" y1="184.5" x2="906.5" y2="184.5" stroke="#1a1a1a" stroke-width="1.0"/>
<line x1="872.6" y1="354.5" x2="906" y2="354.5" stroke="#1a1a1a" stroke-width="1.0"/>
<line x1="903.5" y1="184.1" x2="903.5" y2="354.2" stroke="#1a1a1a" stroke-width="1.0"/>
<polygon points="903.50,184.10 902.30,188.10 904.70,188.10" fill="#1a1a1a" stroke="#1a1a1a" stroke-width="0.6" stroke-linejoin="round"/>
<polygon points="903.50,354.20 902.30,350.20 904.70,350.20" fill="#1a1a1a" stroke="#1a1a1a" stroke-width="0.6" stroke-linejoin="round"/>
<text x="901" y="272" font-size="10.8" text-anchor="middle" letter-spacing="0.7" fill="#1a1a1a" stroke="#1a1a1a" stroke-width="0.1" transform="rotate(-90 901 272)">7.10</text>
</svg></body></html>
